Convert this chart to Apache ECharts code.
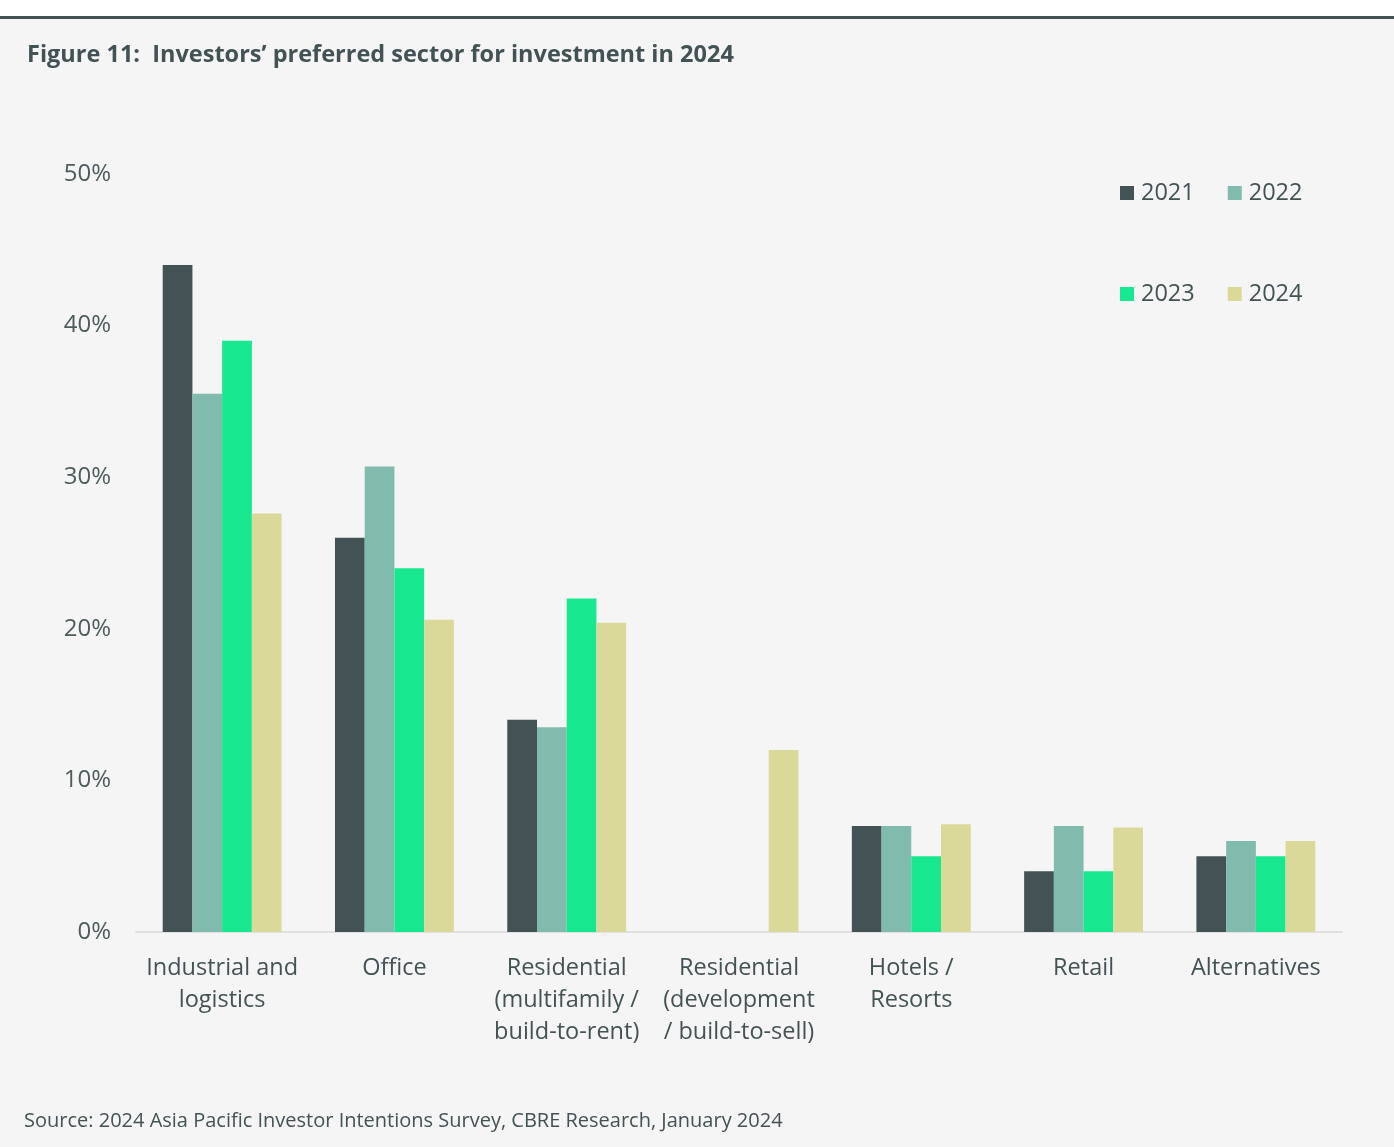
<!DOCTYPE html>
<html>
<head>
  <meta charset="UTF-8" />
  <title>Investors' preferred sector for investment in 2024</title>
  <script src="https://cdn.jsdelivr.net/npm/echarts@6/dist/echarts.min.js"></script>
  <style>
    html, body { margin: 0; height: 100%; background-color: #f5f5f5; }
    #chart { width: 1394px; height: 1147px; }
  </style>
</head>
<body>
  <div id="chart"></div>
  <script>
    const categories = [
      'Industrial and\nlogistics',
      'Office',
      'Residential\n(multifamily /\nbuild-to-rent)',
      'Residential\n(development\n/ build-to-sell)',
      'Hotels /\nResorts',
      'Retail',
      'Alternatives'
    ];
    const years = ['2021', '2022', '2023', '2024'];
    const v2021 = [44, 26, 14, null, 7, 4, 5];
    const v2022 = [35.5, 30.7, 13.5, null, 7, 7, 6];
    const v2023 = [39, 24, 22, null, 5, 4, 5];
    const v2024 = [27.6, 20.6, 20.4, 12, 7.1, 6.9, 6];
    const yTicks = [0, 10, 20, 30, 40, 50];

    const colors = ['#435254', '#80bbad', '#17e88f', '#dbd99a'];
    const textColor = '#435254';
    const font = '"Open Sans", Roboto, sans-serif';

    const chart = echarts.init(document.getElementById('chart'));
    const values = [v2021, v2022, v2023, v2024];

    chart.setOption({
      backgroundColor: '#f5f5f5',
      textStyle: { fontFamily: font },
      graphic: [
        { type: 'rect', shape: { x: 0, y: 0, width: 1394, height: 16 }, style: { fill: '#ffffff' } },
        { type: 'rect', shape: { x: 0, y: 16, width: 1394, height: 3 }, style: { fill: '#435254' } }
      ],
      title: [
        {
          text: 'Figure 11:  Investors’ preferred sector for investment in 2024',
          left: 22, top: 38,
          textStyle: { color: textColor, fontSize: 23.5, fontWeight: 'bold', fontFamily: font }
        },
        {
          text: 'Source: 2024 Asia Pacific Investor Intentions Survey, CBRE Research, January 2024',
          left: 19, top: 1106,
          textStyle: { color: textColor, fontSize: 20, fontWeight: 'normal', fontFamily: font }
        }
      ],
      legend: [
        {
          data: years.slice(0, 2), left: 1115, top: 176,
          itemWidth: 14, itemHeight: 14, itemGap: 33, icon: 'rect',
          textStyle: { color: textColor, fontSize: 23.5, padding: [0, 0, 0, 2] }
        },
        {
          data: years.slice(2), left: 1115, top: 277,
          itemWidth: 14, itemHeight: 14, itemGap: 33, icon: 'rect',
          textStyle: { color: textColor, fontSize: 23.5, padding: [0, 0, 0, 2] }
        }
      ],
      grid: { left: 136, right: 52, top: 174, bottom: 215 },
      xAxis: {
        type: 'category',
        data: categories,
        axisLine: { lineStyle: { color: '#e0e0e0', width: 2 } },
        axisTick: { show: false },
        axisLabel: {
          interval: 0, color: textColor, fontSize: 23.5, lineHeight: 32, margin: 20
        }
      },
      yAxis: {
        type: 'value',
        min: yTicks[0], max: yTicks[yTicks.length - 1], interval: 10,
        splitLine: { show: false },
        axisLine: { show: false },
        axisTick: { show: false },
        axisLabel: { formatter: '{value}%', color: '#4d5b5d', fontSize: 24, margin: 25 }
      },
      series: years.map((y, i) => ({
        name: y,
        type: 'bar',
        data: values[i],
        barGap: '0%',
        barCategoryGap: '31%',
        itemStyle: { color: colors[i] }
      }))
    });
  </script>
</body>
</html>
